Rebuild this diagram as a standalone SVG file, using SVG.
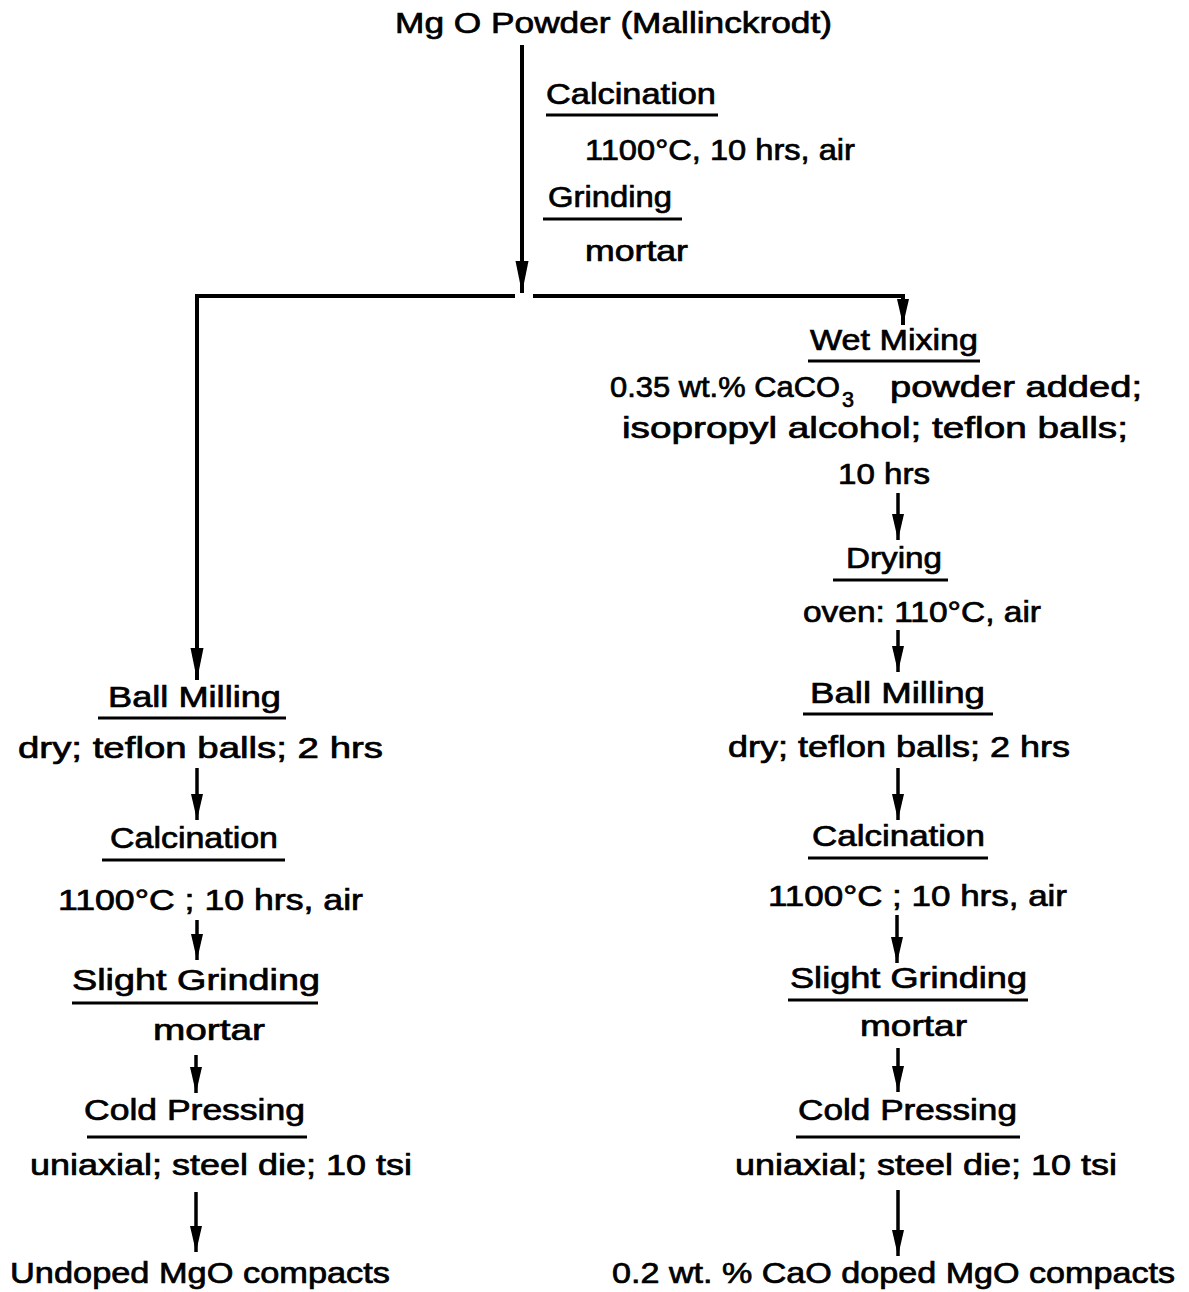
<svg xmlns="http://www.w3.org/2000/svg" width="1189" height="1292" viewBox="0 0 1189 1292">
<style>
text{font-family:"Liberation Sans",Arial,sans-serif;font-size:29px;fill:#000;stroke:#000;stroke-width:0.7px}
.sub{font-size:22px}
.ul{stroke:#000;stroke-width:3;fill:none}
.conn{stroke:#000;stroke-width:4;fill:none}
.sm{stroke:#000;stroke-width:3.5;fill:none}
</style>
<defs>
<marker id="big" markerUnits="userSpaceOnUse" viewBox="0 -7 32 14" refX="32" refY="0" markerWidth="32" markerHeight="14" orient="auto">
<path d="M0,-6.5 L32,0 L0,6.5 z" fill="#000"/>
</marker>
<marker id="small" markerUnits="userSpaceOnUse" viewBox="0 -7 26 14" refX="26" refY="0" markerWidth="26" markerHeight="14" orient="auto">
<path d="M0,-6 L26,0 L0,6 z" fill="#000"/>
</marker>
</defs>
<rect width="1189" height="1292" fill="#fff"/>

<g id="connectors">
<path class="conn" d="M522,45 L522,293" marker-end="url(#big)"/>
<path class="conn" d="M197,296 L515,296"/>
<path class="conn" d="M197,294 L197,680" marker-end="url(#big)"/>
<path class="conn" d="M533,296 L903,296 L903,325" marker-end="url(#small)"/>
<path class="sm" d="M898,493 L898,540" marker-end="url(#small)"/>
<path class="sm" d="M898,630 L898,672" marker-end="url(#small)"/>
<path class="sm" d="M898,768 L898,820" marker-end="url(#small)"/>
<path class="sm" d="M897,915 L897,963" marker-end="url(#small)"/>
<path class="sm" d="M898,1048 L898,1092" marker-end="url(#small)"/>
<path class="sm" d="M898,1190 L898,1256" marker-end="url(#small)"/>
<path class="sm" d="M197,768 L197,820" marker-end="url(#small)"/>
<path class="sm" d="M197,920 L197,960" marker-end="url(#small)"/>
<path class="sm" d="M196,1055 L196,1093" marker-end="url(#small)"/>
<path class="sm" d="M196,1192 L196,1252" marker-end="url(#small)"/>
</g>

<g id="start">
<text x="395" y="33" textLength="437" lengthAdjust="spacingAndGlyphs">Mg O Powder  (Mallinckrodt)</text>
</g>

<g id="step-calcination-1">
<text x="546" y="104" textLength="170" lengthAdjust="spacingAndGlyphs">Calcination</text>
<line class="ul" x1="546" y1="115" x2="718" y2="115"/>
<text x="585" y="160" textLength="270" lengthAdjust="spacingAndGlyphs">1100°C, 10 hrs, air</text>
</g>

<g id="step-grinding-1">
<text x="548" y="207" textLength="124" lengthAdjust="spacingAndGlyphs">Grinding</text>
<line class="ul" x1="543" y1="219" x2="682" y2="219"/>
<text x="585" y="261" textLength="103" lengthAdjust="spacingAndGlyphs">mortar</text>
</g>

<g id="right-wet-mixing">
<text x="810" y="350" textLength="168" lengthAdjust="spacingAndGlyphs">Wet  Mixing</text>
<line class="ul" x1="808" y1="361" x2="980" y2="361"/>
<text x="610" y="397" textLength="230" lengthAdjust="spacingAndGlyphs">0.35 wt.% CaCO</text>
<text class="sub" x="842" y="407" textLength="12" lengthAdjust="spacingAndGlyphs">3</text>
<text x="890" y="397" textLength="252" lengthAdjust="spacingAndGlyphs">powder added;</text>
<text x="622" y="438" textLength="506" lengthAdjust="spacingAndGlyphs">isopropyl alcohol; teflon balls;</text>
<text x="838" y="484" textLength="92" lengthAdjust="spacingAndGlyphs">10 hrs</text>
</g>

<g id="right-drying">
<text x="846" y="568" textLength="96" lengthAdjust="spacingAndGlyphs">Drying</text>
<line class="ul" x1="833" y1="580" x2="948" y2="580"/>
<text x="803" y="622" textLength="238" lengthAdjust="spacingAndGlyphs">oven:  110°C, air</text>
</g>

<g id="right-ball-milling">
<text x="810" y="703" textLength="175" lengthAdjust="spacingAndGlyphs">Ball  Milling</text>
<line class="ul" x1="803" y1="714" x2="993" y2="714"/>
<text x="728" y="757" textLength="342" lengthAdjust="spacingAndGlyphs">dry; teflon balls;  2 hrs</text>
</g>

<g id="right-calcination">
<text x="812" y="846" textLength="173" lengthAdjust="spacingAndGlyphs">Calcination</text>
<line class="ul" x1="808" y1="858" x2="988" y2="858"/>
<text x="768" y="906" textLength="299" lengthAdjust="spacingAndGlyphs">1100°C ;  10 hrs, air</text>
</g>

<g id="right-slight-grinding">
<text x="790" y="988" textLength="237" lengthAdjust="spacingAndGlyphs">Slight  Grinding</text>
<line class="ul" x1="788" y1="1000" x2="1028" y2="1000"/>
<text x="860" y="1036" textLength="107" lengthAdjust="spacingAndGlyphs">mortar</text>
</g>

<g id="right-cold-pressing">
<text x="798" y="1120" textLength="219" lengthAdjust="spacingAndGlyphs">Cold  Pressing</text>
<line class="ul" x1="796" y1="1137" x2="1020" y2="1137"/>
<text x="735" y="1175" textLength="382" lengthAdjust="spacingAndGlyphs">uniaxial;  steel die;  10 tsi</text>
</g>

<g id="right-result">
<text x="612" y="1283" textLength="563" lengthAdjust="spacingAndGlyphs">0.2 wt. % CaO  doped  MgO  compacts</text>
</g>

<g id="left-ball-milling">
<text x="108" y="707" textLength="173" lengthAdjust="spacingAndGlyphs">Ball  Milling</text>
<line class="ul" x1="98" y1="718" x2="286" y2="718"/>
<text x="18" y="758" textLength="365" lengthAdjust="spacingAndGlyphs">dry;  teflon  balls;  2 hrs</text>
</g>

<g id="left-calcination">
<text x="110" y="848" textLength="168" lengthAdjust="spacingAndGlyphs">Calcination</text>
<line class="ul" x1="102" y1="860" x2="285" y2="860"/>
<text x="58" y="910" textLength="305" lengthAdjust="spacingAndGlyphs">1100°C ;  10 hrs, air</text>
</g>

<g id="left-slight-grinding">
<text x="72" y="990" textLength="248" lengthAdjust="spacingAndGlyphs">Slight  Grinding</text>
<line class="ul" x1="72" y1="1003" x2="318" y2="1003"/>
<text x="153" y="1040" textLength="112" lengthAdjust="spacingAndGlyphs">mortar</text>
</g>

<g id="left-cold-pressing">
<text x="84" y="1120" textLength="221" lengthAdjust="spacingAndGlyphs">Cold  Pressing</text>
<line class="ul" x1="87" y1="1137" x2="307" y2="1137"/>
<text x="30" y="1175" textLength="382" lengthAdjust="spacingAndGlyphs">uniaxial;  steel die;  10 tsi</text>
</g>

<g id="left-result">
<text x="10" y="1283" textLength="380" lengthAdjust="spacingAndGlyphs">Undoped  MgO compacts</text>
</g>
</svg>
